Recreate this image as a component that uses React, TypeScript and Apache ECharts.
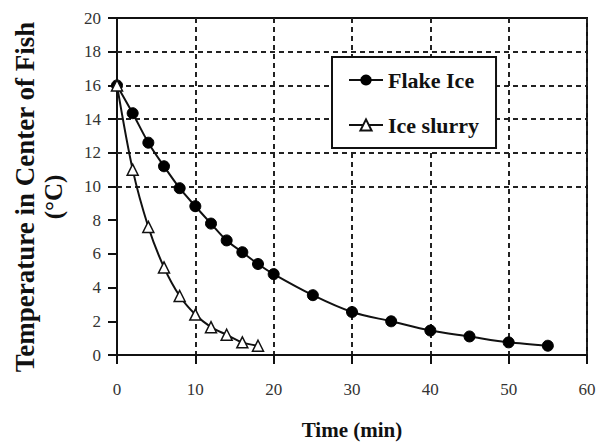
import React, { useEffect, useRef } from "react";
import * as echarts from "echarts";

const flakeTime = [0, 2, 4, 6, 8, 10, 12, 14, 16, 18, 20, 25, 30, 35, 40, 45, 50, 55];
const flakeTemp = [16.0, 14.35, 12.6, 11.2, 9.9, 8.83, 7.8, 6.8, 6.1, 5.4, 4.8, 3.55, 2.55, 2.0, 1.45, 1.1, 0.75, 0.55];
const slurryTime = [0, 2, 4, 6, 8, 10, 12, 14, 16, 18];
const slurryTemp = [16.0, 11.0, 7.6, 5.2, 3.5, 2.4, 1.65, 1.2, 0.75, 0.55];
const gridYValues = [10, 12, 14, 16, 18];
const seriesNames = ["Flake Ice", "Ice slurry"];
const xTitle = "Time (min)";
const yTitleLine1 = "Temperature in Center of Fish";
const yTitleLine2 = "(°C)";

const FONT = "Liberation Serif";

export default function App() {
  const ref = useRef<HTMLDivElement>(null);
  useEffect(() => {
    if (!ref.current) return;
    const chart = echarts.init(ref.current, null, { renderer: "svg" });
    const dash = { color: "#222", width: 2, type: [5, 4] as any };
    const tickStyle = { color: "#111", width: 2 };
    chart.setOption({
      animation: false,
      backgroundColor: "#fff",
      textStyle: { fontFamily: FONT },
      grid: {
        left: 117,
        right: 11,
        top: 18,
        bottom: 90,
        outerBoundsMode: "none",
        containLabel: false,
        show: true,
        borderColor: "#111",
        borderWidth: 2,
        backgroundColor: "transparent",
      },
      xAxis: {
        type: "value",
        min: 0,
        max: 60,
        interval: 10,
        axisLine: { show: true, onZero: false, lineStyle: { color: "#111", width: 2 } },
        axisTick: { show: true, length: 9, lineStyle: tickStyle },
        axisLabel: { show: true, margin: 26, fontFamily: FONT, fontSize: 17, color: "#333" },
        splitLine: { show: true, lineStyle: dash },
      },
      yAxis: {
        type: "value",
        min: 0,
        max: 20,
        interval: 2,
        axisLine: { show: true, onZero: false, lineStyle: { color: "#111", width: 2 } },
        axisTick: { show: true, length: 9, lineStyle: tickStyle },
        axisLabel: { show: true, margin: 16, fontFamily: FONT, fontSize: 17, color: "#333" },
        splitLine: { show: false },
      },
      legend: {
        orient: "vertical",
        left: 332,
        top: 57,
        width: 162,
        backgroundColor: "#fff",
        borderColor: "#111",
        borderWidth: 2,
        padding: [12, 17, 12, 16],
        itemGap: 23,
        itemWidth: 34,
        itemHeight: 14,
        textStyle: { fontFamily: FONT, fontSize: 22, fontWeight: "bold", color: "#111", lineHeight: 22 },
        data: seriesNames,
      },
      graphic: [
        {
          type: "text",
          x: 25,
          y: 197,
          rotation: Math.PI / 2,
          style: {
            text: yTitleLine1,
            fontFamily: FONT,
            fontSize: 27,
            fontWeight: "bold",
            fill: "#111",
            textAlign: "center",
            textVerticalAlign: "middle",
          },
        },
        {
          type: "text",
          x: 53,
          y: 197,
          rotation: Math.PI / 2,
          style: {
            text: yTitleLine2,
            fontFamily: FONT,
            fontSize: 25,
            fontWeight: "bold",
            fill: "#111",
            textAlign: "center",
            textVerticalAlign: "middle",
          },
        },
        {
          type: "text",
          x: 352,
          y: 430,
          style: {
            text: xTitle,
            fontFamily: FONT,
            fontSize: 21,
            fontWeight: "bold",
            fill: "#111",
            textAlign: "center",
            textVerticalAlign: "middle",
          },
        },
      ],
      series: [
        {
          name: seriesNames[0],
          type: "line",
          smooth: 0.3,
          data: flakeTime.map((t, i) => [t, flakeTemp[i]]),
          symbol: "circle",
          symbolSize: 11,
          itemStyle: { color: "#000", borderColor: "#000" },
          lineStyle: { color: "#111", width: 2 },
          z: 3,
          markLine: {
            silent: true,
            symbol: "none",
            label: { show: false },
            lineStyle: dash,
            data: gridYValues.map((v) => ({ yAxis: v })),
            z: 1,
          },
        },
        {
          name: seriesNames[1],
          type: "line",
          smooth: 0.3,
          data: slurryTime.map((t, i) => [t, slurryTemp[i]]),
          symbol: "triangle",
          symbolSize: 11,
          itemStyle: { color: "#fff", borderColor: "#111", borderWidth: 1.5 },
          lineStyle: { color: "#111", width: 2 },
          z: 4,
        },
      ],
    });
    return () => chart.dispose();
  }, []);
  return <div ref={ref} style={{ width: 598, height: 445, position: "absolute", left: 0, top: 0 }} />;
}
